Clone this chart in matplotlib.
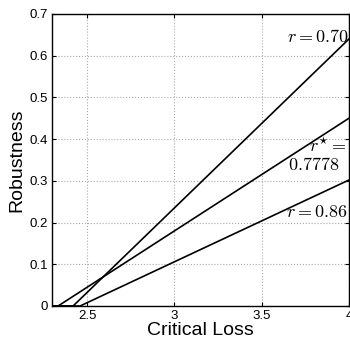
import matplotlib
matplotlib.use("Agg")
import matplotlib.pyplot as plt

plt.rcParams['font.family'] = ['Liberation Sans', 'DejaVu Sans']
plt.rcParams['mathtext.fontset'] = 'cm'

# data (robustness vs critical loss)
x_r070 = [2.30, 2.42, 4.00]
y_r070 = [0.0, 0.0, 0.640]
x_rstar = [2.30, 2.334, 4.00]
y_rstar = [0.0, 0.0, 0.450]
x_r086 = [2.30, 2.46, 4.00]
y_r086 = [0.0, 0.0, 0.302]

xticks = [2.5, 3, 3.5, 4]
xticklabels = ['2.5', '3', '3.5', '4']
yticks = [0, 0.1, 0.2, 0.3, 0.4, 0.5, 0.6, 0.7]
yticklabels = ['0', '0.1', '0.2', '0.3', '0.4', '0.5', '0.6', '0.7']

fig = plt.figure(figsize=(3.5, 3.4), dpi=100)
ax = fig.add_axes([0.149, 0.100, 0.848, 0.859])

for xs, ys in [(x_r070, y_r070), (x_rstar, y_rstar), (x_r086, y_r086)]:
    ax.plot(xs, ys, color='black', lw=1.2)

ax.set_xlim(2.3, 4)
ax.set_ylim(0, 0.7)
ax.set_xticks(xticks)
ax.set_xticklabels(xticklabels)
ax.set_yticks(yticks)
ax.set_yticklabels(yticklabels)
ax.tick_params(direction='in', labelsize=9.5, length=3, top=True, right=True, pad=3)
ax.grid(True, linestyle=':', color='#aaaaaa', lw=0.8)
for s in ax.spines.values():
    s.set_linewidth(1.0)

ax.set_xlabel('Critical Loss', fontsize=14, labelpad=0)
ax.set_ylabel('Robustness', fontsize=14, labelpad=3)

ax.text(3.998, 0.643, r'$r = 0.70$', ha='right', va='center', fontsize=13)
ax.text(3.985, 0.381, r'$r^{\star} =$', ha='right', va='center', fontsize=13)
ax.text(3.945, 0.336, r'$0.7778$', ha='right', va='center', fontsize=13)
ax.text(3.995, 0.223, r'$r = 0.86$', ha='right', va='center', fontsize=13)

fig.savefig('out.png', dpi=100)
